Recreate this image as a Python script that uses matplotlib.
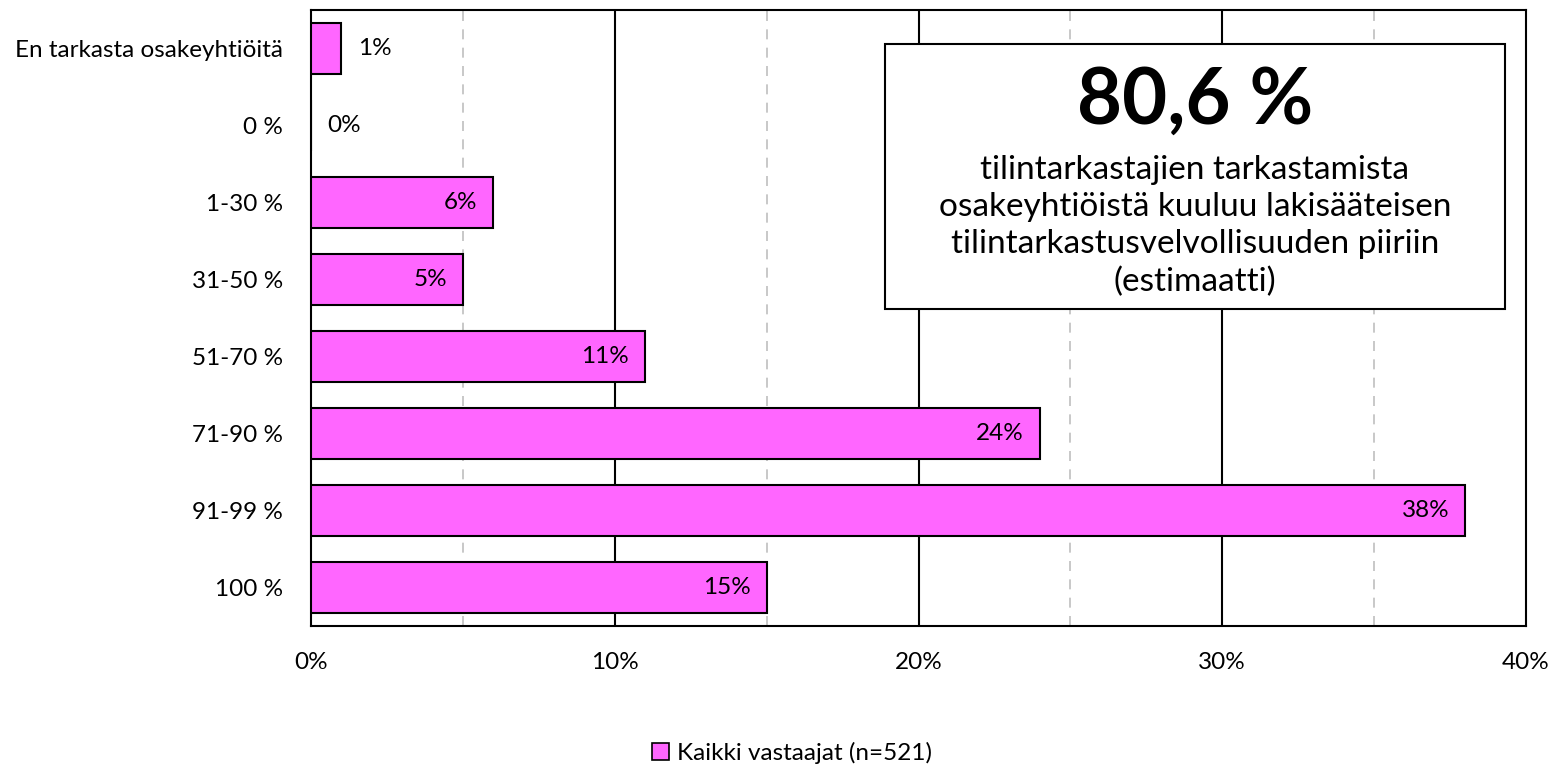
import numpy as np
import matplotlib
matplotlib.use("Agg")
import matplotlib.pyplot as plt
from matplotlib.patches import Patch

plt.rcParams['font.family'] = ['Lato', 'DejaVu Sans']

categories = ["En tarkasta osakeyhtiöitä", "0 %", "1-30 %", "31-50 %",
              "51-70 %", "71-90 %", "91-99 %", "100 %"]
values = [1, 0, 6, 5, 11, 24, 38, 15]
series_name = "Kaikki vastaajat (n=521)"
xticks = [0, 10, 20, 30, 40]
xtick_labels = ["0%", "10%", "20%", "30%", "40%"]
big_number = "80,6 %"
box_text = ("tilintarkastajien tarkastamista\n"
            "osakeyhtiöistä kuuluu lakisääteisen\n"
            "tilintarkastusvelvollisuuden piiriin\n"
            "(estimaatti)")

bar_color = "#FF66FF"
fs = 17.5

fig = plt.figure(figsize=(15.54, 7.65), dpi=100)
ax = fig.add_axes([311 / 1554, 1 - 626 / 765, 1215 / 1554, 616 / 765])

y = np.arange(len(categories))
bars = ax.barh(y, values, height=0.65, color=bar_color, edgecolor="black",
               linewidth=1.5, zorder=3)

ax.set_xlim(0, 40)
ax.set_ylim(len(categories) - 0.5, -0.5)

# solid major grid, dashed minor grid
for x in [10, 20, 30]:
    ax.axvline(x, color="black", linewidth=1.5, zorder=1)
for x in [5, 15, 25, 35]:
    ax.axvline(x, color="#BFBFBF", linewidth=1.2, linestyle=(0, (6, 5)), zorder=1)

ax.set_xticks(xticks)
ax.set_xticklabels(xtick_labels, fontsize=fs)
ax.set_yticks(y)
ax.set_yticklabels(categories, fontsize=fs)
ax.tick_params(axis="both", length=0)
ax.tick_params(axis="x", pad=19)
ax.tick_params(axis="y", pad=20)
for s in ax.spines.values():
    s.set_linewidth(1.5)
    s.set_color("black")

for b, v in zip(bars, values):
    yc = b.get_y() + b.get_height() / 2
    if v >= 3:
        ax.annotate(f"{v}%", (v, yc), xytext=(-11.5, 0), textcoords="offset points",
                    ha="right", va="center", fontsize=fs, zorder=4)
    else:
        ax.annotate(f"{v}%", (v, yc), xytext=(12, 0), textcoords="offset points",
                    ha="left", va="center", fontsize=fs, zorder=4)

# annotation box
bx0, by0, bx1, by1 = 885 / 1554, 1 - 309 / 765, 1505 / 1554, 1 - 44 / 765
rect = plt.Rectangle((bx0, by0), bx1 - bx0, by1 - by0, transform=fig.transFigure,
                     facecolor="white", edgecolor="black", linewidth=1.5, zorder=5)
fig.patches.append(rect)
cx = (bx0 + bx1) / 2
fig.text(cx, 1 - 102 / 765, big_number, ha="center", va="center",
         fontsize=56, fontweight="bold", zorder=6)
fig.text(cx, 1 - 226 / 765, box_text, ha="center", va="center",
         fontsize=24, linespacing=1.3, zorder=6)

fig.legend(handles=[Patch(facecolor=bar_color, edgecolor="black", linewidth=1.2,
                          label=series_name)],
           loc="center", bbox_to_anchor=(792 / 1554, 1 - 753 / 765), frameon=False,
           fontsize=fs, handlelength=0.7, handleheight=0.7, handletextpad=0.3)

fig.savefig("out.png", dpi=100)
